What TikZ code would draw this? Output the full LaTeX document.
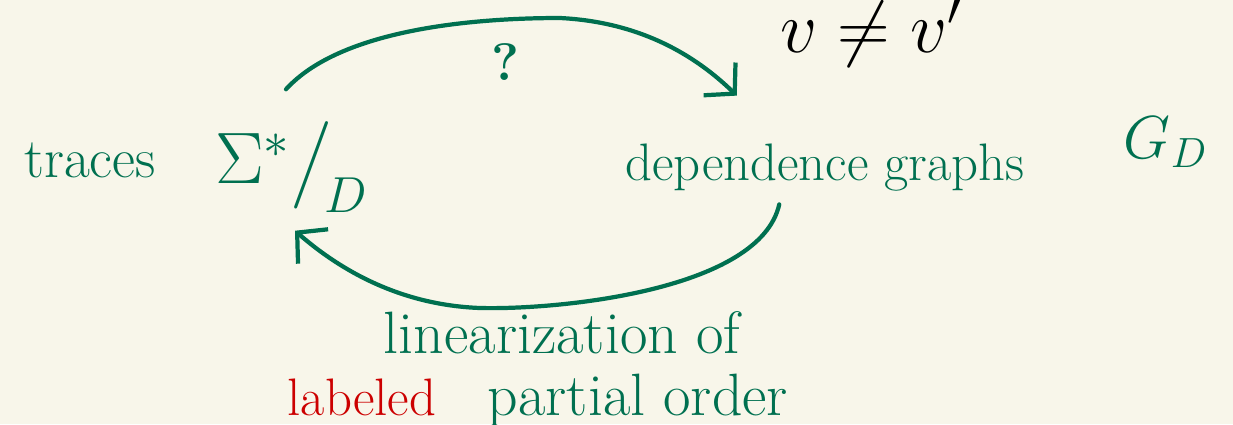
\documentclass[tikz,border=0pt]{standalone}
\usepackage{amsmath}
\usepackage{xcolor}
\usetikzlibrary{arrows.meta,positioning,calc}
\definecolor{inkgreen}{RGB}{0,112,80}
\definecolor{inkred}{RGB}{204,0,0}
\definecolor{paper}{RGB}{248,246,234}

\begin{document}
\begin{tikzpicture}[x=0.01cm, y=-0.01cm, >={Straight Barb[length=6pt, width=13pt]},
  ink/.style={inkgreen, line width=1.2pt, line cap=round},
  hand/.style={inkgreen, inner sep=0pt, font=\fontsize{15}{18}\selectfont}]
  % paper
  \fill[paper] (0,0) rectangle (1233,424);
  \useasboundingbox (0,0) rectangle (1233,424);

  % left: traces
  \node[hand, font=\fontsize{16}{18}\selectfont] (traces) at (90,160) {traces};
  \node[hand, font=\fontsize{21}{24}\selectfont] (quot) at (292,167) {$\Sigma^{*}\big/_{\!D}$};

  % right: dependence graphs
  \node[hand] (dep) at (825,168) {dependence graphs};
  \node[hand, font=\fontsize{18}{20}\selectfont] (gd) at (1166,142) {$G_D$};
  \node[black, inner sep=0pt, font=\fontsize{20}{22}\selectfont] (neq) at (872,32) {$v \neq v'$};

  % top arrow
  \draw[ink, ->] ($(quot.north)+(-6,-32)$) .. controls (340,30) and (470,18) .. (560,18)
    .. controls (640,22) and (695,55) .. ($(dep.north west)+(112,-48)$);
  \node[hand, font=\fontsize{15}{18}\selectfont\bfseries] (q) at (505,62) {?};

  % bottom arrow
  \draw[ink, ->] ($(dep.south east)+(-246,12)$) .. controls (760,290) and (560,310) .. (480,308)
    .. controls (400,305) and (340,270) .. ($(quot.south)+(3,18)$);

  % label below
  \node[hand, font=\fontsize{17}{20}\selectfont] (lin) at (562,333) {linearization of};
  \node[hand, inkred] (lab) at (362,397) {labeled};
  \node[hand, font=\fontsize{17}{20}\selectfont, right=50 of lab.base east, anchor=base west] (po) {partial order};
\end{tikzpicture}
\end{document}
